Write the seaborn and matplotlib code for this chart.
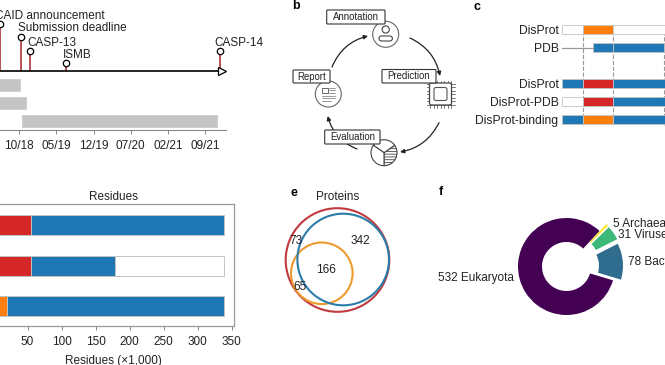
import matplotlib
matplotlib.use("Agg")
import matplotlib.pyplot as plt
from matplotlib.patches import Circle, FancyArrowPatch, FancyBboxPatch, Rectangle, Wedge
import seaborn as sns

sns.set_style("white")
plt.rcParams['font.family'] = ['Liberation Sans', 'DejaVu Sans']
plt.rcParams['font.size'] = 8.5
plt.rcParams['hatch.linewidth'] = 0.6

W, H = 665, 365
BLUE, RED, ORANGE = '#1f77b4', '#d62728', '#ff7f0e'
GREY_EDGE = '#c4c4c4'
TXT = '#222222'
FS = 8.5

# a: timeline (months after 10/18)
event_names = ['CAID announcement', 'Submission deadline', 'CASP-13', 'ISMB', 'CASP-14']
event_months = [-3.6, 0.43, 2.1, 8.9, 37.8]
event_heights = [47, 33.5, 19.5, 7.5, 19.5]
time_ticks = [0, 7, 14, 21, 28, 35]
time_labels = ['10/18', '05/19', '12/19', '07/20', '02/21', '09/21']
phase_starts = [-6, -6, 0.38]
phase_ends = [0.38, 1.5, 37.4]

# c: annotation segments (colour per row)
c_rows = ['DisProt', 'PDB', 'DisProt', 'DisProt-PDB', 'DisProt-binding']
c_row_pos = [0, 1, 3, 4, 5]
c_edges = [0, 20.7, 51, 104]
c_colours = [
    ['white', ORANGE, 'white'],
    [None, BLUE, BLUE],
    [BLUE, RED, BLUE],
    ['white', RED, BLUE],
    [BLUE, ORANGE, BLUE],
]
pdb_start = 30.7
pdb_end = 102.3

# d: residues
d_rows = ['DisProt', 'DisProt-PDB', 'DisProt-binding']
d_orange = [0, 0, 20]
d_red = [55, 55, 0]
d_blue = [339, 178, 339]
d_white = [0, 339, 0]
d_ticks = [50, 100, 150, 200, 250, 300, 350]

# f: organisms
org_names = ['Eukaryota', 'Bacteria', 'Viruses', 'Archaea']
org_counts = [532, 78, 31, 5]
org_colours = ['#440154', '#2f6c8e', '#3cb878', '#fde725']
org_explode = [0, 0.1, 0.115, 0.12]


def pos(left, top, right, bottom):
    # pixel box to figure fractions
    return [left / W, 1 - bottom / H, (right - left) / W, (bottom - top) / H]


fig = plt.figure(figsize=(W / 100, H / 100), dpi=100)

# overlay in pixels for panel b, e and the letters
ov = fig.add_axes([0, 0, 1, 1])
ov.set_xlim(0, W)
ov.set_ylim(H, 0)
ov.axis('off')

# panel a
ax_a = fig.add_axes(pos(0, 0, 226, 130.5))
ax_a.patch.set_alpha(0)
ax_a.set_xlim(-3.58, 38.9)
ax_a.set_ylim(60, -70.5)
for s, e, y in zip(phase_starts, phase_ends, [14.5, 32.5, 50]):
    ax_a.barh(y, e - s, left=s, height=14, color='#c4c4c4')
ax_a.plot([-3.6, 38], [0, 0], color='black', lw=1.2, zorder=3)
ax_a.plot([38.2], [0], marker='>', ms=6, mfc='white', mec='black', mew=0.9, clip_on=False, zorder=4)
ax_a.vlines(event_months, 0, [-h for h in event_heights], color='#b5424a', lw=1.3)
ax_a.plot(event_months, [-h for h in event_heights], 'o', ms=4.6, mfc='white', mec='black', mew=0.9,
          clip_on=False, zorder=4)
label_off = [(-5, 16), (18, 28), (27, 42.5), (63, 54.5), (214, 42.5)]
for name, (lx, ly) in zip(event_names, label_off):
    ov.text(lx, ly, name, ha='left', va='center', fontsize=FS, color=TXT)
ax_a.set_xticks(time_ticks, time_labels, fontsize=FS, color=TXT)
ax_a.set_yticks([])
for side in ['top', 'left', 'right']:
    ax_a.spines[side].set_visible(False)
ax_a.spines['bottom'].set_color('#888888')
ax_a.tick_params(axis='x', length=3, width=0.7, color='#888888', pad=4, bottom=True)

# panel b
boxes = [('Annotation', 326.7, 10, 385, 24), ('Report', 293, 70, 330, 83),
         ('Prediction', 382, 69.5, 436, 83), ('Evaluation', 324.7, 130, 380, 144)]
arcs = [((410, 38), (440, 76)), ((439, 122.7), (400, 152)),
        ((357, 149), (327.7, 116)), ((332, 67), (368, 36))]
for a, b in arcs:
    ov.add_patch(FancyArrowPatch(a, b, connectionstyle='arc3,rad=-0.25', arrowstyle='-|>', mutation_scale=6,
                                 lw=0.9, color=TXT, shrinkA=0, shrinkB=0))

# annotation icon
ov.add_patch(Circle((385.7, 34.3), 13, fc='white', ec='#666666', lw=0.8))
ov.add_patch(Circle((385.7, 29.5), 3.6, fc='white', ec='#444444', lw=0.8))
ov.add_patch(FancyBboxPatch((379, 36), 13.4, 5, boxstyle='round,pad=0,rounding_size=2.5', fc='white', ec='#444444', lw=0.8))
# report icon
ov.add_patch(Circle((328.3, 94), 13, fc='white', ec='#666666', lw=0.8))
ov.add_patch(Rectangle((322, 87.5), 5.5, 5, fc='white', ec='#666666', lw=0.7))
for ly, x0, x1 in [(88, 329, 335), (90, 329, 335), (92.5, 329, 335), (95.5, 322, 335), (98, 322, 335), (100.5, 322, 331)]:
    ov.plot([x0, x1], [ly, ly], color='#888888', lw=0.6)
# chip icon
for k in range(7):
    off = -10.5 + 3.5 * k
    ov.plot([440.7 + off] * 2, [80.5, 107.5], color='#777777', lw=0.7, zorder=2)
    ov.plot([427, 454.5], [94 + off] * 2, color='#777777', lw=0.7, zorder=2)
ov.add_patch(FancyBboxPatch((429.5, 83), 22, 22, boxstyle='round,pad=0,rounding_size=2', fc='white', ec='#444444', lw=0.9, zorder=3))
ov.add_patch(FancyBboxPatch((434, 87.5), 13, 13, boxstyle='round,pad=0,rounding_size=2', fc='white', ec='#555555', lw=0.8, zorder=3))
# evaluation icon
ov.add_patch(Wedge((384, 152.7), 13, -35, 90, fc='white', ec='#444444', lw=0.8, hatch='------'))
ov.add_patch(Wedge((384, 152.7), 13, 215, 325, fc='white', ec='#444444', lw=0.8))
ov.add_patch(Wedge((384, 152.7), 13, 90, 215, fc='white', ec='#444444', lw=0.8))

for name, x0, y0, x1, y1 in boxes:
    ov.add_patch(FancyBboxPatch((x0, y0), x1 - x0, y1 - y0, boxstyle='round,pad=0,rounding_size=1',
                                fc='white', ec='#333333', lw=0.8, zorder=5))
    ov.text((x0 + x1) / 2, (y0 + y1) / 2, name, ha='center', va='center', fontsize=6.9, color=TXT, zorder=6)

# panel c
ax_c = fig.add_axes(pos(562, 24.5, 665, 125.5))
ax_c.patch.set_alpha(0)
ax_c.set_xlim(0, 103)
ax_c.set_ylim(5.33, -0.28)
ax_c.vlines([c_edges[1], c_edges[2], pdb_end], -0.28, 5.33, color='#999999', lw=0.8, linestyles='--', zorder=1)
for row, colours in zip(c_row_pos, c_colours):
    for i, col in enumerate(colours):
        left = c_edges[i]
        right = c_edges[i + 1]
        if col is None:
            continue
        if row == 1:
            left = max(left, pdb_start)
            right = min(right, pdb_end)
        ax_c.barh(row, right - left, left=left, height=0.5, color=col, edgecolor=GREY_EDGE, lw=0.6, zorder=2)
ax_c.plot([0, pdb_start], [1, 1], color='#999999', lw=0.9, zorder=2)
ax_c.set_yticks(c_row_pos, c_rows, fontsize=8.7, color=TXT)
ax_c.set_xticks([])
ax_c.tick_params(axis='y', length=0, pad=2.5)
sns.despine(ax=ax_c, left=True, bottom=True)

# panel d, seaborn stacks drawn longest first
ax_d = fig.add_axes(pos(-6.5, 204, 234.3, 326))
for vals, col in [(d_white, 'white'), (d_blue, BLUE), (d_red, RED), (d_orange, ORANGE)]:
    sns.barplot(y=d_rows, x=vals, color=col, saturation=1, width=0.49, edgecolor=GREY_EDGE, linewidth=0.7, ax=ax_d)
ax_d.set_xlim(0, 354)
ax_d.set_ylim(2.49, -0.52)
ax_d.set_yticks([])
ax_d.set_xticks(d_ticks, [str(t) for t in d_ticks], fontsize=FS, color=TXT)
ax_d.tick_params(axis='x', length=3, width=0.7, color='#888888', pad=4.5, bottom=True)
for spine in ax_d.spines.values():
    spine.set_color('#999999')
    spine.set_linewidth(0.9)
ax_d.set_title('Residues', fontsize=FS, color=TXT, pad=3)
ax_d.set_xlabel('Residues (×1,000)', fontsize=FS, color=TXT, labelpad=4.5)

# panel e
ov.add_patch(Circle((337.5, 260), 51.8, fc='none', ec='#c0393f', lw=1.5))
ov.add_patch(Circle((321.8, 273.3), 30.8, fc='none', ec='#ef9a2e', lw=1.5))
ov.add_patch(Circle((343.2, 259.5), 45.8, fc='none', ec='#2b7bab', lw=1.5))
ov.text(338, 197, 'Proteins', ha='center', va='center', fontsize=FS, color=TXT)
for txt, x, y in [('73', 296, 241), ('342', 360.7, 241), ('166', 326, 270), ('65', 300, 287)]:
    ov.text(x, y, txt, ha='center', va='center', fontsize=FS, color=TXT)

# panel f
ax_f = fig.add_axes(pos(566.5 - 80, 266.5 - 80, 566.5 + 80, 266.5 + 80))
ax_f.patch.set_alpha(0)
ax_f.pie(org_counts, colors=org_colours, explode=org_explode, startangle=47, radius=48.5 / 80,
         wedgeprops=dict(width=24 / 80, edgecolor='none'))
ax_f.set_xlim(-1, 1)
ax_f.set_ylim(-1, 1)
for txt, x, y, ha in [('532 Eukaryota', 514, 278, 'right'), ('78 Bacteria', 628, 262, 'left'),
                      ('31 Viruses', 618, 235, 'left'), ('5 Archaea', 613, 224, 'left')]:
    ov.text(x, y, txt, ha=ha, va='center', fontsize=FS, color=TXT)

# panel letters
for letter, x, y in [('b', 296, 6), ('c', 477, 7), ('e', 293.5, 193), ('f', 441, 192)]:
    ov.text(x, y, letter, ha='center', va='center', fontsize=9, fontweight='bold', color='black')

fig.savefig('out.png', dpi=100)
